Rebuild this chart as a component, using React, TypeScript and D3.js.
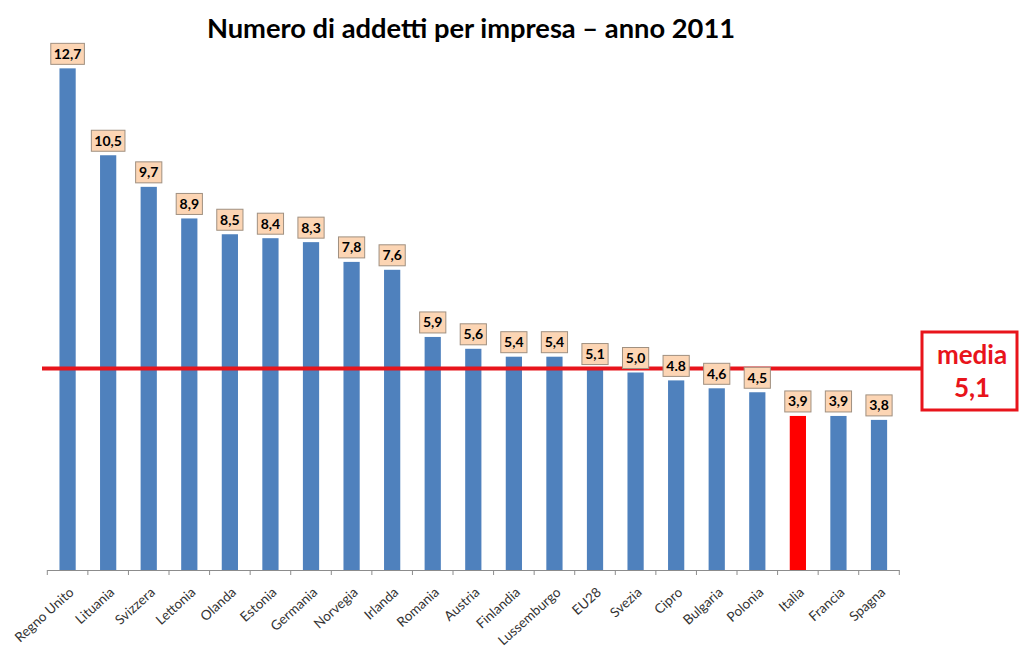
import React from "react";
import * as d3 from "d3";

const title = "Numero di addetti per impresa – anno 2011";
const countries = ["Regno Unito","Lituania","Svizzera","Lettonia","Olanda","Estonia","Germania","Norvegia","Irlanda","Romania","Austria","Finlandia","Lussemburgo","EU28","Svezia","Cipro","Bulgaria","Polonia","Italia","Francia","Spagna"];
const values = [12.7,10.5,9.7,8.9,8.5,8.4,8.3,7.8,7.6,5.9,5.6,5.4,5.4,5.1,5.0,4.8,4.6,4.5,3.9,3.9,3.8];
const valueLabels = ["12,7","10,5","9,7","8,9","8,5","8,4","8,3","7,8","7,6","5,9","5,6","5,4","5,4","5,1","5,0","4.8","4,6","4,5","3,9","3,9","3,8"];
const highlight = "Italia";
const mediaValue = 5.1;
const mediaLabel = ["media", "5,1"];

const W = 1019, H = 646;
const FONT = "Lato, 'Open Sans', sans-serif";

export default function App() {
  const x = d3.scaleBand<string>().domain(countries).range([47.3, 899.3]).paddingInner(0.6).paddingOuter(0.3);
  const y = d3.scaleLinear().domain([0, 14]).range([570, 17]);
  const ticks = d3.range(countries.length + 1).map(i => 47.3 + i * (852 / countries.length));
  const bw = x.bandwidth();
  const yMedia = y(mediaValue);

  return (
    <svg width={W} height={H} style={{ position: "absolute", left: 0, top: 0 }} fontFamily={FONT}>
      <rect width={W} height={H} fill="#fff" />
      <text x={471} y={38} textAnchor="middle" fontSize={27.3} fontWeight="bold" fill="#000">{title}</text>
      {countries.map((c, i) => (
        <rect key={c} x={x(c)!} y={y(values[i])} width={bw} height={y(0) - y(values[i])}
          fill={c === highlight ? "#ff0000" : "#4f81bd"} />
      ))}
      <line x1={47.3} x2={899.3} y1={570.5} y2={570.5} stroke="#8c8c8c" strokeWidth={1} />
      {ticks.map((t, i) => (
        <line key={i} x1={t} x2={t} y1={570} y2={575} stroke="#8c8c8c" strokeWidth={1} />
      ))}
      {countries.map((c) => {
        const cx = x(c)! + bw / 2 + 4;
        return (
          <text key={c} transform={`translate(${cx},${590}) rotate(-42)`} textAnchor="end"
            fontSize={13.5} fill="#333" dy="0.35em">{c}</text>
        );
      })}
      <line x1={42} x2={922} y1={yMedia} y2={yMedia} stroke="#e8141b" strokeWidth={4} />
      {countries.map((c, i) => {
        const cx = x(c)! + bw / 2;
        const lbl = valueLabels[i];
        const w = lbl.length * 7.4 + 4;
        const by = y(values[i]) - 4;
        return (
          <g key={c}>
            <rect x={cx - w / 2} y={by - 21} width={w} height={21} fill="#fcd5b4" stroke="#a09080" strokeWidth={1} />
            <text x={cx} y={by - 5.5} textAnchor="middle" fontSize={14} fontWeight="bold" fill="#000">{lbl}</text>
          </g>
        );
      })}
      <rect x={922} y={332} width={95} height={78} fill="#fff" stroke="#e8141b" strokeWidth={3} />
      <text x={972} y={364} textAnchor="middle" fontSize={26} fontWeight="bold" fill="#e8141b">{mediaLabel[0]}</text>
      <text x={972} y={397} textAnchor="middle" fontSize={26} fontWeight="bold" fill="#e8141b">{mediaLabel[1]}</text>
    </svg>
  );
}
